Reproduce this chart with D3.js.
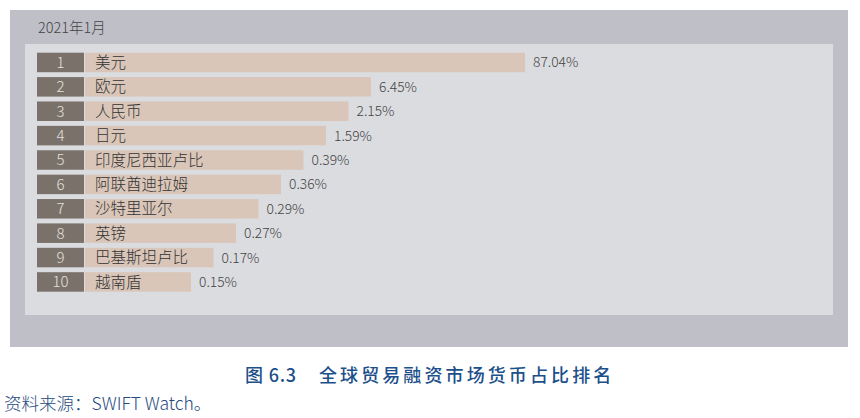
<!DOCTYPE html>
<html><head><meta charset="utf-8">
<script src="https://cdn.jsdelivr.net/npm/d3@7"></script>
<style>html,body{margin:0;padding:0;background:#fff;}svg{display:block;}</style>
</head><body>
<svg id="c" width="860" height="418"></svg>
<script>
const ranks = [1,2,3,4,5,6,7,8,9,10];
const currencies = ["美元","欧元","人民币","日元","印度尼西亚卢比","阿联酋迪拉姆","沙特里亚尔","英镑","巴基斯坦卢比","越南盾"];
const shares = [87.04,6.45,2.15,1.59,0.39,0.36,0.29,0.27,0.17,0.15];
const period = "2021年1月";
const captionNo = "图 6.3";
const captionText = "全球贸易融资市场货币占比排名";
const source = "资料来源：SWIFT Watch。";

const svg = d3.select("#c");
const cjk = "'Noto Sans CJK SC','Noto Sans',sans-serif";

// frames
svg.append("rect").attr("x",10).attr("y",10).attr("width",838).attr("height",337).attr("fill","#bfbfc8");
svg.append("rect").attr("x",25).attr("y",44).attr("width",808).attr("height",271).attr("fill","#dbdce0");
svg.append("text").attr("x",38).attr("y",33).text(period)
  .attr("font-family",cjk).attr("font-weight",300).attr("font-size",14.5).attr("fill","#444");

const y = d3.scaleBand().domain(ranks).range([52.7, 291.7]).paddingInner(0.2).paddingOuter(0);
// bar end position by rank (display order, the leader drawn much longer)
const xEnd = d3.scaleLinear().domain([1,2,10]).range([525,371,191]);
const boxX0 = 37, boxX1 = 84, barX0 = 85;

const rows = svg.append("g").selectAll("g").data(ranks.map((r,i)=>({r, name:currencies[i], v:shares[i]})))
  .join("g").attr("transform", d=>`translate(0,${y(d.r)})`);

rows.append("rect").attr("x",boxX0).attr("width",boxX1-boxX0).attr("height",y.bandwidth()).attr("fill","#7a716b");
rows.append("rect").attr("x",barX0).attr("width",d=>xEnd(d.r)-barX0).attr("height",y.bandwidth()).attr("fill","#d9c6b9");
rows.append("text").attr("x",(boxX0+boxX1)/2).attr("y",y.bandwidth()/2).attr("dy","0.36em")
  .attr("text-anchor","middle").attr("font-family",cjk).attr("font-weight",300).attr("font-size",15).attr("fill","#e4e0dc")
  .text(d=>d.r);
rows.append("text").attr("x",95).attr("y",y.bandwidth()/2).attr("dy","0.36em")
  .attr("font-family",cjk).attr("font-weight",300).attr("font-size",15.5).attr("fill","#333")
  .text(d=>d.name);
rows.append("text").attr("x",d=>xEnd(d.r)+8).attr("y",y.bandwidth()/2).attr("dy","0.36em")
  .attr("font-family",cjk).attr("font-weight",300).attr("font-size",13.8).attr("fill","#444")
  .text(d=>d3.format(".2f")(d.v)+"%");

const cap = svg.append("text").attr("x",245).attr("y",382)
  .attr("font-family",cjk).attr("font-weight",500).attr("font-size",18).attr("fill","#1d4f8a");
cap.append("tspan").attr("letter-spacing",0.8).text(captionNo);
cap.append("tspan").attr("dx",22).attr("letter-spacing",3.1).text(captionText);
svg.append("text").attr("x",4).attr("y",410)
  .attr("font-family",cjk).attr("font-weight",300).attr("font-size",17.5).attr("fill","#274a80").text(source);
</script>
</body></html>
